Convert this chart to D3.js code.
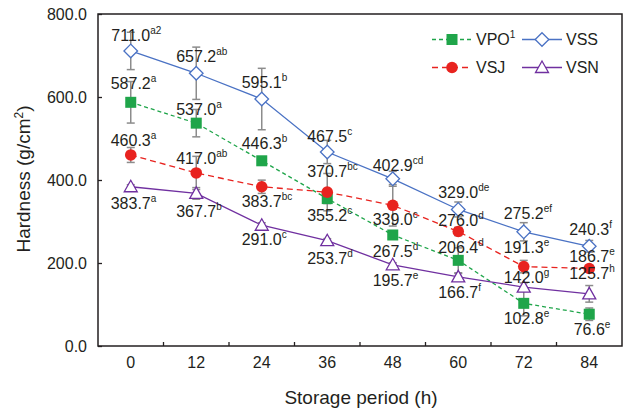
<!DOCTYPE html>
<html>
<head>
<meta charset="utf-8">
<script src="https://cdn.jsdelivr.net/npm/d3@7"></script>
<style>
  body { margin: 0; background: #fff; }
  svg { display: block; font-family: "Liberation Sans", Arial, sans-serif; }
</style>
</head>
<body>
<div id="chart"></div>
<script>
// --- data ---
const categories = ["0", "12", "24", "36", "48", "60", "72", "84"];
const yTicks = [0, 200, 400, 600, 800];

const vpoValues = [587.2, 537.0, 446.3, 355.2, 267.5, 206.4, 102.8, 76.6];
const vssValues = [711.0, 657.2, 595.1, 467.5, 402.9, 329.0, 275.2, 240.3];
const vsjValues = [460.3, 417.0, 383.7, 370.7, 339.0, 276.0, 191.3, 186.7];
const vsnValues = [383.7, 367.7, 291.0, 253.7, 195.7, 166.7, 142.0, 125.7];

const vpoErrors = [50, 33, 8, 12, 8, 30, 30, 15];
const vssErrors = [45, 63, 74, 28, 18, 18, 22, 14];
const vsjErrors = [18, 40, 16, 45, 50, 10, 15, 8];
const vsnErrors = [5, 14, 6, 5, 5, 8, 10, 20];

const vpoLetters = ["a", "a", "b", "c", "d", "d", "e", "e"];
const vssLetters = ["a2", "ab", "b", "c", "cd", "de", "ef", "f"];
const vsjLetters = ["a", "ab", "bc", "bc", "c", "d", "e", "e"];
const vsnLetters = ["a", "b", "c", "d", "e", "f", "g", "h"];

// label baseline offset from the marker (layout only)
const vpoLabelDy = [-13, -8, -12, 22, 22, -7, 21, 21];
const vssLabelDy = [-10, -11, -11, -10, -8, -11, -13, -11];
const vsjLabelDy = [-9, -9, 20, -15, 20, -5, -14, -7];
const vsnLabelDy = [22, 24, 20, 23, 21, 21, -4, -15];

const width = 627, height = 414;
const margin = { left: 98, right: 5, top: 14, bottom: 68 };

const svg = d3.select("#chart").append("svg")
    .attr("width", width)
    .attr("height", height);

const x = d3.scaleBand()
    .domain(categories)
    .range([margin.left, width - margin.right]);

const y = d3.scaleLinear()
    .domain([0, 800])
    .range([height - margin.bottom, margin.top]);

const series = [
    { name: "VPO", sup: "1", values: vpoValues, errors: vpoErrors, letters: vpoLetters, dy: vpoLabelDy,
      color: "#1fa54a", dash: "4,3", marker: "square" },
    { name: "VSS", sup: "", values: vssValues, errors: vssErrors, letters: vssLetters, dy: vssLabelDy,
      color: "#4a72c4", dash: null, marker: "diamond" },
    { name: "VSJ", sup: "", values: vsjValues, errors: vsjErrors, letters: vsjLetters, dy: vsjLabelDy,
      color: "#e8231f", dash: "6,4", marker: "circle" },
    { name: "VSN", sup: "", values: vsnValues, errors: vsnErrors, letters: vsnLetters, dy: vsnLabelDy,
      color: "#7030a0", dash: null, marker: "triangle" }
];

const cx = c => x(c) + x.bandwidth() / 2;
const axisColor = "#231f20";

// --- axes ---
const yAxis = svg.append("g")
    .attr("transform", `translate(${margin.left},0)`)
    .call(d3.axisLeft(y).tickValues(yTicks).tickFormat(d3.format(".1f")).tickSizeInner(-4).tickSizeOuter(0).tickPadding(11));
yAxis.select(".domain").remove();
yAxis.selectAll("line").attr("stroke", axisColor).attr("stroke-width", 1.3);
yAxis.selectAll("text").attr("font-size", 16).attr("fill", "#231f20").attr("font-family", "Liberation Sans, Arial, sans-serif");

// x tick labels
svg.append("g").selectAll("text")
    .data(categories)
    .join("text")
    .attr("x", d => cx(d))
    .attr("y", 368)
    .attr("text-anchor", "middle")
    .attr("font-size", 16)
    .attr("fill", "#231f20")
    .text(d => d);

// x tick marks between categories
svg.append("g").selectAll("line")
    .data(categories.slice(1))
    .join("line")
    .attr("x1", d => x(d)).attr("x2", d => x(d))
    .attr("y1", y(0)).attr("y2", y(0) - 4)
    .attr("stroke", axisColor).attr("stroke-width", 1.3);

// plot frame
svg.append("rect")
    .attr("x", margin.left)
    .attr("y", margin.top)
    .attr("width", width - margin.right - margin.left)
    .attr("height", y(0) - margin.top)
    .attr("fill", "none")
    .attr("stroke", axisColor)
    .attr("stroke-width", 1.5);

// axis titles
const yTitle = svg.append("text")
    .attr("transform", `translate(30,179) rotate(-90)`)
    .attr("text-anchor", "middle")
    .attr("font-size", 19)
    .attr("fill", "#231f20");
yTitle.append("tspan").text("Hardness (g/cm");
yTitle.append("tspan").attr("font-size", 12).attr("dy", -7).text("2");
yTitle.append("tspan").attr("dy", 7).text(")");

svg.append("text")
    .attr("x", 361)
    .attr("y", 404)
    .attr("text-anchor", "middle")
    .attr("font-size", 19)
    .attr("fill", "#231f20")
    .text("Storage period (h)");

// --- lines ---
const line = d3.line()
    .x((d, i) => cx(categories[i]))
    .y(d => y(d));

series.forEach(s => {
    svg.append("path")
        .datum(s.values)
        .attr("d", line)
        .attr("fill", "none")
        .attr("stroke", s.color)
        .attr("stroke-width", 1.3)
        .attr("stroke-dasharray", s.dash);
});

// --- error bars ---
series.forEach(s => {
    const g = svg.append("g").attr("stroke", "#8c8c8c").attr("stroke-width", 1.5);
    s.values.forEach((v, i) => {
        const px = cx(categories[i]);
        const top = y(v + s.errors[i]);
        const bot = y(v - s.errors[i]);
        g.append("line").attr("x1", px).attr("x2", px).attr("y1", top).attr("y2", bot);
        g.append("line").attr("x1", px - 4).attr("x2", px + 4).attr("y1", top).attr("y2", top);
        g.append("line").attr("x1", px - 4).attr("x2", px + 4).attr("y1", bot).attr("y2", bot);
    });
});

// --- markers ---
function drawMarker(g, type, px, py, color) {
    if (type === "square") {
        g.append("rect").attr("x", px - 5.5).attr("y", py - 5.5).attr("width", 11).attr("height", 11)
            .attr("fill", color);
    } else if (type === "circle") {
        g.append("circle").attr("cx", px).attr("cy", py).attr("r", 5.8).attr("fill", color);
    } else if (type === "diamond") {
        g.append("path")
            .attr("d", `M${px},${py - 6.8}L${px + 6.8},${py}L${px},${py + 6.8}L${px - 6.8},${py}Z`)
            .attr("fill", "#fff").attr("stroke", color).attr("stroke-width", 1.3);
    } else {
        g.append("path")
            .attr("d", `M${px},${py - 6.5}L${px + 6.5},${py + 5}L${px - 6.5},${py + 5}Z`)
            .attr("fill", "#fff").attr("stroke", color).attr("stroke-width", 1.3);
    }
}

series.forEach(s => {
    const g = svg.append("g");
    s.values.forEach((v, i) => drawMarker(g, s.marker, cx(categories[i]), y(v), s.color));
});

// --- data labels ---
series.forEach(s => {
    const g = svg.append("g");
    s.values.forEach((v, i) => {
        const px = cx(categories[i]);
        const t = g.append("text")
            .attr("y", y(v) + s.dy[i])
            .attr("font-size", 16)
            .attr("fill", "#231f20");
        const num = t.append("tspan").text(v.toFixed(1));
        t.append("tspan").attr("font-size", 10).attr("dy", -7).text(s.letters[i]);
        const w = num.node().getComputedTextLength();
        t.attr("x", px - w / 2);
    });
});

// --- legend ---
const legendItems = [
    { s: series[0], lx: 432, ly: 39.5 },
    { s: series[1], lx: 522, ly: 39.5 },
    { s: series[2], lx: 432, ly: 67.5 },
    { s: series[3], lx: 522, ly: 67.5 }
];
const legend = svg.append("g");
legendItems.forEach(item => {
    const s = item.s;
    legend.append("line")
        .attr("x1", item.lx).attr("x2", item.lx + 40)
        .attr("y1", item.ly).attr("y2", item.ly)
        .attr("stroke", s.color).attr("stroke-width", 1.3)
        .attr("stroke-dasharray", s.dash);
    drawMarker(legend, s.marker, item.lx + 20, item.ly, s.color);
    const t = legend.append("text")
        .attr("x", item.lx + 44)
        .attr("y", item.ly + 5)
        .attr("font-size", 16)
        .attr("fill", "#231f20");
    t.append("tspan").text(s.name);
    if (s.sup) t.append("tspan").attr("font-size", 10).attr("dy", -7).text(s.sup);
});
</script>
</body>
</html>
